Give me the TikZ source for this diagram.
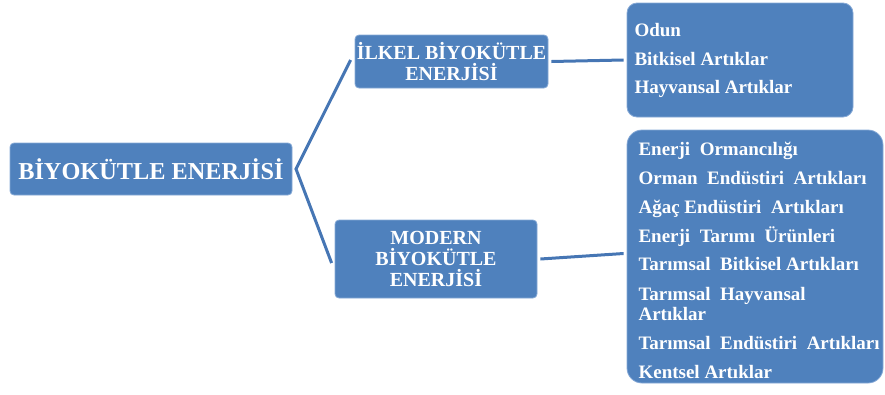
\documentclass[tikz,border=0pt]{standalone}
\usepackage{fontspec}
\setmainfont{Liberation Serif}
\definecolor{boxblue}{HTML}{4F81BD}
\definecolor{edgeblue}{HTML}{86A9D6}
\definecolor{lineblue}{HTML}{4676B4}
\begin{document}
\begin{tikzpicture}[x=1pt,y=-1pt,
  box/.style={fill=boxblue, draw=edgeblue, line width=0.8pt, rounded corners=#1, inner sep=0pt},
  conn/.style={draw=lineblue, line width=3pt},
  head/.style={text=white, align=center, font=\bfseries\fontsize{20}{20.5}\selectfont},
  item/.style={text=white, anchor=base west, align=left, font=\bfseries\fontsize{19}{20}\selectfont}]
\useasboundingbox (0,0) rectangle (885,394);
% boxes
\node[box=4pt, minimum width=282pt, minimum height=52pt, text=white, font=\bfseries\fontsize{24.3}{25}\selectfont] (main) at (151,169) {BİYOKÜTLE ENERJİSİ};
\node[box=4pt, minimum width=193pt, minimum height=53pt, head] (ilkel) at (451.5,61.5) {İLKEL BİYOKÜTLE\\ENERJİSİ};
\node[box=4pt, minimum width=202pt, minimum height=78pt, head, font=\bfseries\fontsize{20}{21}\selectfont] (modern) at (436,259) {MODERN\\BİYOKÜTLE\\ENERJİSİ};
\node[box=10pt, minimum width=226pt, minimum height=114pt] (odun) at (740,60) {};
\node[box=15pt, minimum width=256pt, minimum height=253pt] (big) at (755,256.5) {};
% list texts
\node[item] (t1) at (631,36) {Odun};
\node[item] (t2) at (631,65) {Bitkisel Artıklar};
\node[item] (t3) at (631,93) {Hayvansal Artıklar};
\node[item] (m1) at (635,155) {Enerji\ \ Ormancılığı};
\node[item] (m2) at (635,184) {Orman\ \ Endüstiri\ \ Artıkları};
\node[item] (m3) at (635,213) {Ağaç Endüstiri\ \ Artıkları};
\node[item] (m4) at (635,242) {Enerji\ \ Tarımı\ \ Ürünleri};
\node[item] (m5) at (635,270) {Tarımsal\ \ Bitkisel Artıkları};
\node[item] (m6) at (635,320) {Tarımsal\ \ Hayvansal\\Artıklar};
\node[item] (m7) at (635,349) {Tarımsal\ \ Endüstiri\ \ Artıkları};
\node[item] (m8) at (635,378) {Kentsel Artıklar};
% connectors
\coordinate (fork) at (296,169);
\draw[conn] ([xshift=-4pt,yshift=1.5pt]ilkel.west) -- (fork) -- ([xshift=-3pt,yshift=-4pt]modern.west);
\draw[conn] ([xshift=3pt]ilkel.east) -- ([xshift=-3pt]odun.west);
\draw[conn] ([xshift=3pt]modern.east) -- ([xshift=-3pt,yshift=3pt]big.west);
\end{tikzpicture}
\end{document}
